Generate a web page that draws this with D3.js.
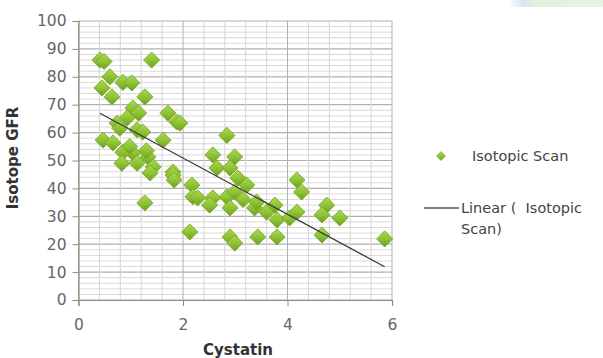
<!DOCTYPE html>
<html>
<head>
<meta charset="utf-8">
<script src="https://cdn.jsdelivr.net/npm/d3@7"></script>
<style>
  body { margin: 0; background: #fff; }
  svg text { font-family: "DejaVu Sans", sans-serif; }
</style>
</head>
<body>
<div id="chart"></div>
<script>
// cystatin (x) vs isotope GFR (y)
let cystatin = [0.41, 0.49, 1.40, 0.45, 0.60, 0.85, 1.02, 0.64, 1.27, 1.04, 0.93, 0.74, 1.71, 1.88, 1.94,
  1.15, 1.12, 0.79, 0.47, 0.66, 1.62, 1.23, 0.85, 1.04, 0.83, 1.12, 1.33, 1.43, 1.37, 1.81,
  1.81, 1.83, 1.27, 2.17, 2.19, 2.13, 2.57, 2.84, 2.99, 2.65, 2.90, 2.28, 2.57, 2.51, 2.84,
  2.90, 2.99, 3.22, 3.05, 3.37, 3.41, 3.60, 3.76, 3.80, 4.04, 4.18, 4.18, 4.27, 4.75, 4.66,
  5.00, 4.66, 5.86, 3.80, 3.43, 2.90, 2.99, 0.98, 1.30, 3.15];
let gfr = [86, 85.5, 86, 76, 80, 78, 77.8, 72.8, 72.8, 68.8, 65.2, 63.4, 67, 63.8, 63.4,
  67, 61, 61.6, 57.3, 56.3, 57.3, 60.2, 53, 52.7, 49, 49, 51.3, 47.7, 45.5, 45.9,
  44.8, 43, 34.8, 41.2, 37, 24.4, 52, 59, 51.3, 47.3, 47.3, 36.6, 36.6, 34, 36.9,
  33, 38.7, 41.2, 43.7, 33, 35.1, 31.5, 34, 28.7, 29.4, 31.5, 43, 38.7, 34, 30.5,
  29.4, 23.3, 21.9, 22.6, 22.6, 22.6, 20.4, 55, 53.5, 36];
let xTicks = [0, 2, 4, 6];
let yTicks = [0, 10, 20, 30, 40, 50, 60, 70, 80, 90, 100];
let seriesName = 'Isotopic Scan';
let trendName = ['Linear (  Isotopic', 'Scan)'];

let width = 603, height = 358,
    margin = {left: 78.5, top: 21, right: 211, bottom: 58},
    plotW = width - margin.left - margin.right,
    plotH = height - margin.top - margin.bottom;

let svg = d3.select('#chart').append('svg')
    .attr('width', width)
    .attr('height', height);

let defs = svg.append('defs');
let band = defs.append('linearGradient').attr('id', 'band');
band.append('stop').attr('offset', '0%').attr('stop-color', '#ffffff');
band.append('stop').attr('offset', '15%').attr('stop-color', '#d3e7f7');
band.append('stop').attr('offset', '30%').attr('stop-color', '#e3f1dc');
band.append('stop').attr('offset', '100%').attr('stop-color', '#e8f3df');
svg.append('rect')
    .attr('x', 508).attr('y', 0).attr('width', 95).attr('height', 7)
    .attr('fill', 'url(#band)');

let mk = defs.append('linearGradient').attr('id', 'mk')
    .attr('x1', '0%').attr('y1', '0%').attr('x2', '100%').attr('y2', '100%');
mk.append('stop').attr('offset', '0%').attr('stop-color', '#a9d94c');
mk.append('stop').attr('offset', '50%').attr('stop-color', '#8fc436');
mk.append('stop').attr('offset', '100%').attr('stop-color', '#6f9e1e');

let g = svg.append('g')
    .attr('transform', `translate(${margin.left}, ${margin.top})`);

let xScale = d3.scaleLinear().domain([0, 6]).range([0, plotW]);
let yScale = d3.scaleLinear().domain([0, 100]).range([plotH, 0]);

// minor + major grid
g.append('g').selectAll('line')
    .data(d3.range(0, 100.01, 2))
    .join('line')
    .attr('x1', 0).attr('x2', plotW)
    .attr('y1', d => yScale(d)).attr('y2', d => yScale(d))
    .attr('stroke', d => d % 10 === 0 ? '#b0b0b0' : '#d9d9d9')
    .attr('stroke-width', d => d % 10 === 0 ? 1.2 : 1);

g.append('g').selectAll('line')
    .data(d3.range(0, 6.01, 0.4))
    .join('line')
    .attr('y1', 0).attr('y2', plotH)
    .attr('x1', d => xScale(d)).attr('x2', d => xScale(d))
    .attr('stroke', d => Math.abs(d / 2 - Math.round(d / 2)) < 1e-6 ? '#b0b0b0' : '#d4d4d4')
    .attr('stroke-width', 1);

// axes
let xAxis = g.append('g')
    .attr('transform', `translate(0, ${plotH})`)
    .call(d3.axisBottom(xScale).tickValues(xTicks).tickFormat(d3.format('d')).tickSize(6).tickPadding(13));
let yAxis = g.append('g')
    .call(d3.axisLeft(yScale).tickValues(yTicks).tickSize(6).tickPadding(6));

[xAxis, yAxis].forEach(a => {
  a.select('.domain').attr('stroke', '#8c8c8c').attr('stroke-width', 1.2);
  a.selectAll('.tick line').attr('stroke', '#8c8c8c');
  a.selectAll('.tick text')
      .attr('fill', '#666')
      .style('font-size', '15.5px')
      .style('font-family', '"DejaVu Sans", sans-serif');
});

// points
let points = cystatin.map((c, i) => [c, gfr[i]]);
let diamond = d3.symbol().type(d3.symbolSquare).size(130);

g.append('g').selectAll('path')
    .data(points)
    .join('path')
    .attr('d', diamond)
    .attr('transform', d => `translate(${xScale(d[0])}, ${yScale(d[1])}) rotate(45)`)
    .attr('fill', 'url(#mk)')
    .attr('stroke', '#7aa72a')
    .attr('stroke-width', 0.8);

// least squares trend
let mx = d3.mean(cystatin), my = d3.mean(gfr);
let slope = d3.sum(points, d => (d[0] - mx) * (d[1] - my)) / d3.sum(points, d => (d[0] - mx) ** 2);
let icpt = my - slope * mx;
let xr = d3.extent(cystatin);

g.append('line')
    .attr('x1', xScale(xr[0])).attr('y1', yScale(icpt + slope * xr[0]))
    .attr('x2', xScale(xr[1])).attr('y2', yScale(icpt + slope * xr[1]))
    .attr('stroke', '#3a3a3a')
    .attr('stroke-width', 1.3);

// axis titles
svg.append('text')
    .attr('x', 238).attr('y', 355)
    .attr('text-anchor', 'middle')
    .attr('fill', '#333')
    .style('font-size', '15px').style('font-weight', 'bold')
    .text('Cystatin');

svg.append('text')
    .attr('transform', 'translate(18, 158) rotate(-90)')
    .attr('text-anchor', 'middle')
    .attr('fill', '#333')
    .style('font-size', '15px').style('font-weight', 'bold')
    .text('Isotope GFR');

// legend
let lg = svg.append('g');
lg.append('path')
    .attr('d', d3.symbol().type(d3.symbolSquare).size(40))
    .attr('transform', 'translate(441, 156) rotate(45)')
    .attr('fill', 'url(#mk)')
    .attr('stroke', '#7aa72a')
    .attr('stroke-width', 0.6);
lg.append('text')
    .attr('x', 472).attr('y', 161)
    .attr('fill', '#444')
    .style('font-size', '14.5px')
    .text(seriesName);
lg.append('line')
    .attr('x1', 424).attr('x2', 459).attr('y1', 208).attr('y2', 208)
    .attr('stroke', '#555').attr('stroke-width', 1.3);
lg.selectAll('text.tr')
    .data(trendName)
    .join('text')
    .attr('class', 'tr')
    .attr('x', 461).attr('y', (d, i) => 213 + i * 21)
    .attr('fill', '#444')
    .style('font-size', '14.5px')
    .style('white-space', 'pre')
    .text(d => d);
</script>
</body>
</html>
